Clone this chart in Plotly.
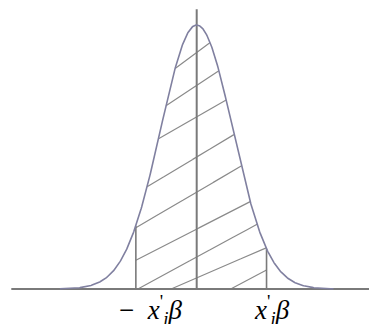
import numpy as np
import plotly.graph_objects as go

# bounds of the shaded band (in standard-deviation units)
bound_left = -1.69
bound_right = 1.94
curve_span = [-3.8, 3.8]
axis_left = -5.15
axis_top = 1.06

# hatch lines: height where each crosses the vertical axis (fraction of peak) and slope
hatch_intercepts = [0.896, 0.771, 0.652, 0.500, 0.367, 0.227, 0.121, 0.042, -0.068]
hatch_slopes = [0.101, 0.090, 0.078, 0.082, 0.080, 0.070, 0.074, 0.059, 0.072]

labels = ["−  <i>x</i><sup>'</sup><sub><i>i</i></sub><i>β</i>", "<i>x</i><sup>'</sup><sub><i>i</i></sub><i>β</i>"]
label_x = [-1.27, 2.08]

def dens(z):
    return np.exp(-np.asarray(z) ** 2 / 2)

z = np.linspace(curve_span[0], curve_span[1], 600)

fig = go.Figure()

# hatch lines clipped to the band under the curve
hx, hy = [], []
zz = np.linspace(bound_left, bound_right, 2000)
for b, s in zip(hatch_intercepts, hatch_slopes):
    yl = b + s * zz
    mask = (yl >= 0) & (yl <= dens(zz))
    if mask.any():
        hx += list(zz[mask]) + [None]
        hy += list(yl[mask]) + [None]
fig.add_trace(go.Scatter(x=hx, y=hy, mode="lines",
                         line=dict(color="#8a8a8a", width=1.2), hoverinfo="skip"))

# vertical bounds
for bx in [bound_left, bound_right]:
    fig.add_trace(go.Scatter(x=[bx, bx], y=[0, float(dens(bx))], mode="lines",
                             line=dict(color="#7a7a7a", width=1.6), hoverinfo="skip"))

# axes
fig.add_trace(go.Scatter(x=[axis_left, 6], y=[0, 0], mode="lines",
                         line=dict(color="#7a7a7a", width=2), hoverinfo="skip"))
fig.add_trace(go.Scatter(x=[0, 0], y=[0, axis_top], mode="lines",
                         line=dict(color="#7a7a7a", width=2), hoverinfo="skip"))

# curve
fig.add_trace(go.Scatter(x=z, y=dens(z), mode="lines",
                         line=dict(color="#8080a0", width=1.6), hoverinfo="skip"))

for t, lx in zip(labels, label_x):
    fig.add_annotation(x=lx, y=-0.079, text=t, showarrow=False,
                       xanchor="center", yanchor="middle",
                       font=dict(family="Liberation Serif", size=27, color="#000000"))

# page body has an 8px margin; figure is sized to fit the window
W, H = 369, 316
x0 = 196.7 - 8
sx = 36.0
base = 289.0 - 8
h = 264.0
fig.update_layout(
    width=W, height=H,
    margin=dict(l=0, r=0, t=0, b=0),
    paper_bgcolor="white", plot_bgcolor="white",
    showlegend=False,
    xaxis=dict(range=[-x0 / sx, (W - x0) / sx], visible=False, fixedrange=True),
    yaxis=dict(range=[(base - H) / h, base / h], visible=False, fixedrange=True),
)

fig.write_html("out.html")
